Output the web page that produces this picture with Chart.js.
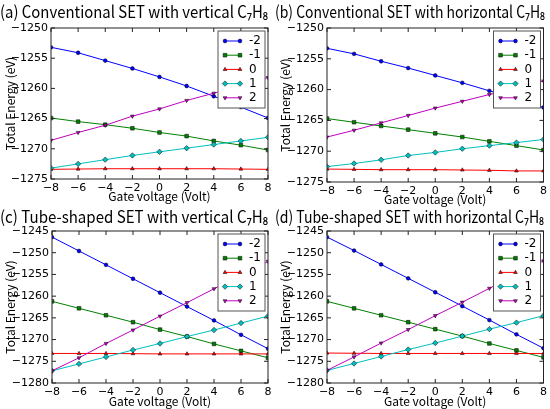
<!DOCTYPE html>
<html>
<head>
<meta charset="utf-8">
<script src="https://cdn.jsdelivr.net/npm/chart.js@4.4.1/dist/chart.umd.min.js"></script>
<style>
  body { margin: 0; background: #fff; }
  #wrap { position: relative; width: 550px; height: 409px; overflow: hidden; background: #fff; }
  #wrap canvas { position: absolute; }
</style>
</head>
<body>
<div id="wrap">
  <canvas id="chartA" width="275" height="204" style="left:0;top:0"></canvas>
  <canvas id="chartB" width="275" height="207" style="left:275px;top:0"></canvas>
  <canvas id="chartC" width="275" height="205" style="left:0;top:204px"></canvas>
  <canvas id="chartD" width="275" height="205" style="left:275px;top:204px"></canvas>
</div>
<script>
// gate voltage (x) and tick values
const voltages = [-8, -6, -4, -2, 0, 2, 4, 6, 8];
const xTickValues = [-8, -6, -4, -2, 0, 2, 4, 6, 8];
const yTicksTop = [-1275, -1270, -1265, -1260, -1255, -1250];
const yTicksBottom = [-1280, -1275, -1270, -1265, -1260, -1255, -1250, -1245];

// charge states
const seriesLabels = ['-2', '-1', '0', '1', '2'];

// (a) conventional SET, vertical C7H8
const aM2 = [-1253.2, -1254.1, -1255.4, -1256.7, -1258.1, -1259.6, -1261.3, -1263.1, -1264.9];
const aM1 = [-1264.9, -1265.5, -1266.0, -1266.6, -1267.3, -1267.9, -1268.7, -1269.4, -1270.2];
const aZ  = [-1273.4, -1273.35, -1273.3, -1273.3, -1273.3, -1273.3, -1273.3, -1273.35, -1273.4];
const aP1 = [-1273.2, -1272.5, -1271.8, -1271.1, -1270.5, -1269.9, -1269.3, -1268.7, -1268.1];
const aP2 = [-1268.6, -1267.3, -1266.1, -1264.6, -1263.4, -1262.0, -1260.8, -1259.5, -1258.2];

// (b) conventional SET, horizontal C7H8
const bM2 = [-1253.3, -1254.2, -1255.4, -1256.5, -1257.7, -1258.9, -1260.2, -1261.5, -1262.9];
const bM1 = [-1264.7, -1265.3, -1265.9, -1266.5, -1267.1, -1267.7, -1268.4, -1269.1, -1269.8];
const bZ  = [-1272.9, -1272.95, -1273.0, -1273.0, -1273.0, -1273.05, -1273.1, -1273.2, -1273.2];
const bP1 = [-1272.5, -1272.0, -1271.4, -1270.7, -1270.2, -1269.6, -1269.1, -1268.6, -1268.1];
const bP2 = [-1267.7, -1266.6, -1265.4, -1264.2, -1263.0, -1261.9, -1260.8, -1259.8, -1258.6];

// (c) tube-shaped SET, vertical C7H8
const cM2 = [-1246.4, -1249.6, -1252.8, -1256.0, -1259.2, -1262.4, -1265.6, -1268.9, -1272.1];
const cM1 = [-1261.2, -1262.8, -1264.4, -1266.0, -1267.7, -1269.3, -1271.0, -1272.6, -1274.2];
const cZ  = [-1273.2, -1273.2, -1273.2, -1273.25, -1273.3, -1273.3, -1273.3, -1273.3, -1273.3];
const cP1 = [-1277.2, -1275.6, -1274.0, -1272.4, -1270.9, -1269.3, -1267.8, -1266.2, -1264.6];
const cP2 = [-1277.2, -1274.2, -1270.9, -1267.8, -1264.6, -1261.5, -1258.3, -1255.2, -1252.0];

// (d) tube-shaped SET, horizontal C7H8
const dM2 = [-1246.4, -1249.5, -1252.7, -1255.9, -1259.1, -1262.3, -1265.5, -1268.8, -1272.0];
const dM1 = [-1261.2, -1262.8, -1264.4, -1266.0, -1267.6, -1269.2, -1270.9, -1272.5, -1274.1];
const dZ  = [-1273.1, -1273.15, -1273.2, -1273.2, -1273.2, -1273.2, -1273.2, -1273.2, -1273.2];
const dP1 = [-1277.1, -1275.5, -1273.9, -1272.3, -1270.8, -1269.2, -1267.6, -1266.1, -1264.5];
const dP2 = [-1277.1, -1274.0, -1270.8, -1267.7, -1264.5, -1261.4, -1258.2, -1255.0, -1251.9];

const colors = ['#0000ff', '#008000', '#ff0000', '#00bfbf', '#bf00bf'];
const markers = ['circle', 'rect', 'triangle', 'rectRot', 'triangle'];
const markerRot = [0, 0, 0, 0, 180];
const markerSize = [1.9, 2.6, 2.2, 2.7, 2.2];

const tickFont = { family: 'DejaVu Sans', size: 11 };
const axisFont = { family: '"Noto Sans CJK SC", "Noto Sans", sans-serif', size: 12, weight: 'normal' };
const titleFont = { family: '"Noto Sans CJK SC", "Noto Sans", sans-serif', size: 16.6, weight: 'normal', lineHeight: '20px' };

const fmt = v => String(v).replace('-', '\u2212');

// matplotlib-like box with inward ticks, plus the framed legend
const frameLegend = {
  id: 'frameLegend',
  afterDatasetsDraw(chart) {
    const { ctx, chartArea: a, scales } = chart;
    ctx.save();
    ctx.strokeStyle = '#222';
    ctx.lineWidth = 1;
    ctx.strokeRect(a.left, a.top, a.right - a.left, a.bottom - a.top);
    ctx.beginPath();
    scales.x.ticks.forEach(t => {
      const px = scales.x.getPixelForValue(t.value);
      ctx.moveTo(px, a.bottom); ctx.lineTo(px, a.bottom - 4);
      ctx.moveTo(px, a.top); ctx.lineTo(px, a.top + 4);
    });
    scales.y.ticks.forEach(t => {
      const py = scales.y.getPixelForValue(t.value);
      ctx.moveTo(a.left, py); ctx.lineTo(a.left + 4, py);
      ctx.moveTo(a.right, py); ctx.lineTo(a.right - 4, py);
    });
    ctx.stroke();

    const w = 47, h = 77;
    const bx = a.right - 3 - w, by = a.top + 3;
    ctx.fillStyle = '#fff';
    ctx.fillRect(bx, by, w, h);
    ctx.strokeStyle = '#555';
    ctx.strokeRect(bx, by, w, h);
    ctx.font = '12px "DejaVu Sans"';
    ctx.textBaseline = 'middle';
    chart.data.datasets.forEach((ds, i) => {
      const yy = by + 10 + i * 14.2;
      ctx.strokeStyle = ds.borderColor;
      ctx.lineWidth = ds.borderWidth;
      ctx.beginPath();
      ctx.moveTo(bx + 7, yy); ctx.lineTo(bx + 22, yy);
      ctx.stroke();
      ctx.fillStyle = ds.pointBackgroundColor;
      ctx.strokeStyle = ds.pointBorderColor;
      ctx.lineWidth = ds.pointBorderWidth;
      [bx + 7, bx + 22].forEach(px => {
        Chart.helpers.drawPoint(ctx, {
          pointStyle: ds.pointStyle, rotation: ds.pointRotation,
          radius: ds.pointRadius, borderWidth: ds.pointBorderWidth
        }, px, yy);
      });
      ctx.fillStyle = '#000';
      ctx.fillText(ds.label, bx + 31, yy);
    });
    ctx.restore();
  }
};

function makeChart(id, geo, title, series, yTicks) {
  const datasets = series.map((vals, i) => ({
    label: seriesLabels[i],
    data: voltages.map((v, j) => ({ x: v, y: vals[j] })),
    borderColor: colors[i],
    backgroundColor: colors[i],
    borderWidth: 1,
    pointStyle: markers[i],
    pointRotation: markerRot[i],
    pointRadius: markerSize[i],
    pointBackgroundColor: colors[i],
    pointBorderColor: '#000',
    pointBorderWidth: 0.5,
    tension: 0,
    order: 4 - i
  }));

  new Chart(document.getElementById(id), {
    type: 'line',
    data: { datasets },
    plugins: [frameLegend],
    options: {
      responsive: false,
      animation: false,
      layout: { padding: { left: 0, right: geo.pr, top: 0, bottom: 0 } },
      plugins: {
        legend: { display: false },
        tooltip: { enabled: false },
        title: {
          display: true, text: title, color: '#000', font: titleFont,
          padding: { top: geo.tp, bottom: geo.tb }
        }
      },
      scales: {
        x: {
          type: 'linear', min: -8, max: 8,
          afterBuildTicks: s => { s.ticks = xTickValues.map(v => ({ value: v })); },
          afterFit: s => { s.height = geo.xh; },
          grid: { display: false, drawTicks: false },
          border: { display: false },
          ticks: { font: tickFont, color: '#000', padding: 3, maxRotation: 0, autoSkip: false, callback: v => fmt(v) },
          title: { display: true, text: 'Gate voltage (Volt)', color: '#000', font: axisFont, padding: { top: 0, bottom: 0 } }
        },
        y: {
          type: 'linear', min: yTicks[0], max: yTicks[yTicks.length - 1],
          afterBuildTicks: s => { s.ticks = yTicks.map(v => ({ value: v })); },
          afterFit: s => { s.width = geo.yw; },
          grid: { display: false, drawTicks: false },
          border: { display: false },
          ticks: { font: tickFont, color: '#000', padding: 3, autoSkip: false, callback: v => fmt(v) },
          title: { display: true, text: 'Total Energy (eV)', color: '#000', font: axisFont, padding: { top: 3, bottom: 0 } }
        }
      }
    }
  });
}

makeChart('chartA', { yw: 51, pr: 7, tp: 2, tb: 6, xh: 25 },
  '(a) Conventional SET with vertical C\u2087H\u2088', [aM2, aM1, aZ, aP1, aP2], yTicksTop);
makeChart('chartB', { yw: 52, pr: 5, tp: 2, tb: 6, xh: 25 },
  '(b) Conventional SET with horizontal C\u2087H\u2088', [bM2, bM1, bZ, bP1, bP2], yTicksTop);
makeChart('chartC', { yw: 52, pr: 7, tp: 3, tb: 4, xh: 26 },
  '(c) Tube-shaped SET with vertical C\u2087H\u2088', [cM2, cM1, cZ, cP1, cP2], yTicksBottom);
makeChart('chartD', { yw: 52, pr: 6, tp: 3, tb: 4, xh: 26 },
  '(d) Tube-shaped SET with horizontal C\u2087H\u2088', [dM2, dM1, dZ, dP1, dP2], yTicksBottom);
</script>
</body>
</html>
